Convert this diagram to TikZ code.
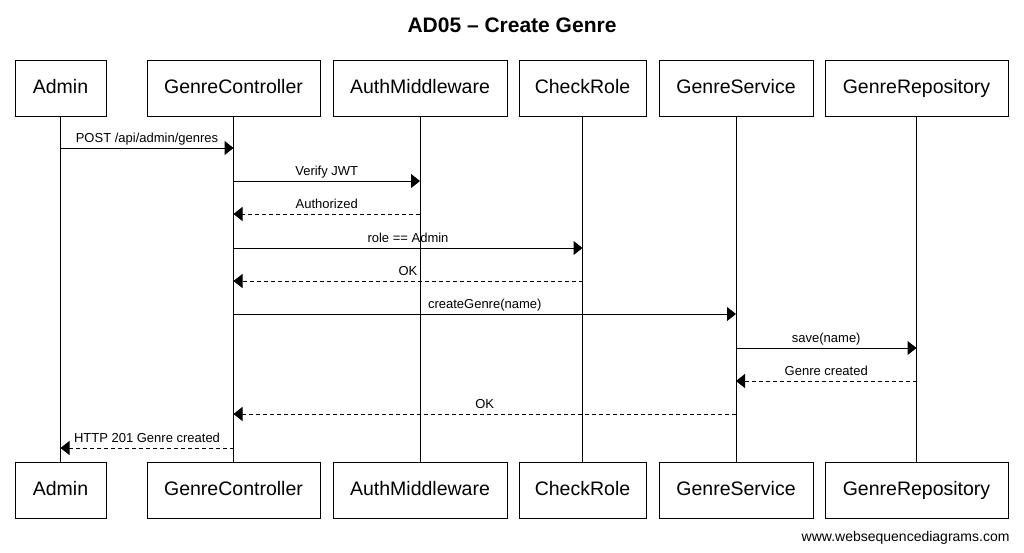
\documentclass[tikz,border=0pt]{standalone}
\usepackage{fontspec}
\setmainfont{Liberation Sans}
\usetikzlibrary{arrows.meta}

\begin{document}
\begin{tikzpicture}[x=1pt, y=-1pt,
    >={Triangle[length=9pt, width=14pt]},
    actor/.style={draw, line width=1pt, minimum height=56pt, inner sep=0pt, text height=14pt, text depth=4pt, font=\fontsize{19.5}{22}\selectfont},
    life/.style={line width=1pt},
    call/.style={->, line width=1pt},
    ret/.style={->, line width=1pt, dash pattern=on 4pt off 3pt},
    lab/.style={font=\fontsize{13}{15}\selectfont, above, inner sep=2pt, text height=9pt, text depth=3pt}]
  \useasboundingbox (0,0) rectangle (1024,552);
  \node[font=\bfseries\fontsize{21}{24}\selectfont] (title) at (512,25) {AD05 – Create Genre};
  % participants, top row
  \node[actor, minimum width=91pt] (adm) at (60.5,88) {Admin};
  \node[actor, minimum width=173pt] (ctl) at (233.5,88) {GenreController};
  \node[actor, minimum width=174pt] (auth) at (420,88) {AuthMiddleware};
  \node[actor, minimum width=127pt] (role) at (582.5,88) {CheckRole};
  \node[actor, minimum width=154pt] (svc) at (736,88) {GenreService};
  \node[actor, minimum width=183pt] (repo) at (916.5,88) {GenreRepository};
  % participants, bottom row
  \node[actor, minimum width=91pt] (adm-b) at (60.5,490) {Admin};
  \node[actor, minimum width=173pt] (ctl-b) at (233.5,490) {GenreController};
  \node[actor, minimum width=174pt] (auth-b) at (420,490) {AuthMiddleware};
  \node[actor, minimum width=127pt] (role-b) at (582.5,490) {CheckRole};
  \node[actor, minimum width=154pt] (svc-b) at (736,490) {GenreService};
  \node[actor, minimum width=183pt] (repo-b) at (916.5,490) {GenreRepository};
  \foreach \p in {adm,ctl,auth,role,svc,repo}
    \draw[life] (\p.south) -- (\p-b.north);
  % message rows
  \coordinate (m1) at (0,148);
  \coordinate (m2) at (0,181);
  \coordinate (m3) at (0,214);
  \coordinate (m4) at (0,248);
  \coordinate (m5) at (0,281);
  \coordinate (m6) at (0,314);
  \coordinate (m7) at (0,348);
  \coordinate (m8) at (0,381);
  \coordinate (m9) at (0,414);
  \coordinate (m10) at (0,448);
  \draw[call] (adm |- m1) -- node[lab]{POST /api/admin/genres} (ctl |- m1);
  \draw[call] (ctl |- m2) -- node[lab]{Verify JWT} (auth |- m2);
  \draw[ret] (auth |- m3) -- node[lab]{Authorized} (ctl |- m3);
  \draw[call] (ctl |- m4) -- node[lab]{role == Admin} (role |- m4);
  \draw[ret] (role |- m5) -- node[lab]{OK} (ctl |- m5);
  \draw[call] (ctl |- m6) -- node[lab]{createGenre(name)} (svc |- m6);
  \draw[call] (svc |- m7) -- node[lab]{save(name)} (repo |- m7);
  \draw[ret] (repo |- m8) -- node[lab]{Genre created} (svc |- m8);
  \draw[ret] (svc |- m9) -- node[lab]{OK} (ctl |- m9);
  \draw[ret] (ctl |- m10) -- node[lab]{HTTP 201 Genre created} (adm |- m10);
  \node[font=\fontsize{14}{16}\selectfont, anchor=east] (credit) at (1013,538) {www.websequencediagrams.com};
\end{tikzpicture}
\end{document}
